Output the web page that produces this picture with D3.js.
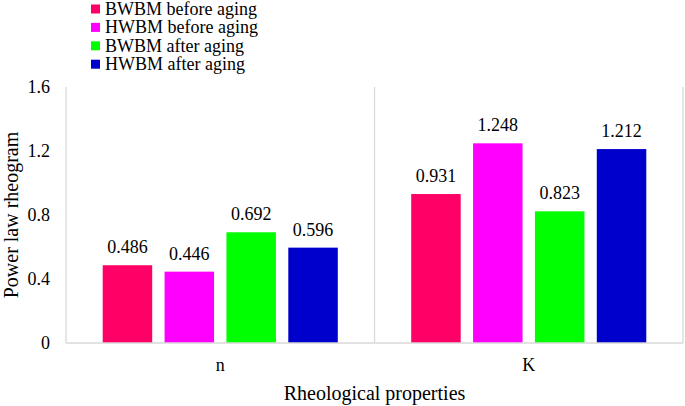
<!DOCTYPE html>
<html><head><meta charset="utf-8">
<script src="https://cdn.jsdelivr.net/npm/d3@7"></script>
<style>body{margin:0;background:#fff}svg{display:block}text{font-family:"Liberation Serif","Times New Roman",serif;fill:#000}</style>
</head><body>
<svg id="c" width="685" height="406"></svg>
<script>
const categories = ["n", "K"];
const seriesNames = ["BWBM before aging", "HWBM before aging", "BWBM after aging", "HWBM after aging"];
const seriesColors = ["#FF0066", "#FF00FF", "#00FF00", "#0000CC"];
const bwbmBefore = [0.486, 0.931];
const hwbmBefore = [0.446, 1.248];
const bwbmAfter = [0.692, 0.823];
const hwbmAfter = [0.596, 1.212];
const yTicks = [0, 0.4, 0.8, 1.2, 1.6];
const yTitle = "Power law rheogram";
const xTitle = "Rheological properties";

const seriesValues = [bwbmBefore, hwbmBefore, bwbmAfter, hwbmAfter];
const svg = d3.select("#c");
const L = 66, R = 683, T = 87, B = 343;

const x0 = d3.scaleBand().domain(categories).range([L, R]).paddingInner(0).paddingOuter(0);
const y = d3.scaleLinear().domain([0, 1.6]).range([B, T]);
const groupW = x0.bandwidth() * 0.762;
const x1 = d3.scaleBand().domain(seriesNames).range([0, groupW]).paddingInner(0.2).paddingOuter(0);

const grid = "#d9d9d9";
const bounds = [L, ...categories.slice(1).map(c => x0(c)), R];
svg.append("g").selectAll("line").data(bounds).join("line")
  .attr("x1", d => d).attr("x2", d => d).attr("y1", T).attr("y2", B)
  .attr("stroke", grid).attr("stroke-width", 1.3);

categories.forEach((cat, ci) => {
  const gx = x0(cat) + (x0.bandwidth() - groupW) / 2;
  seriesNames.forEach((s, si) => {
    const v = seriesValues[si][ci];
    svg.append("rect")
      .attr("x", gx + x1(s)).attr("y", y(v))
      .attr("width", x1.bandwidth()).attr("height", B - y(v))
      .attr("fill", seriesColors[si]);
    svg.append("text")
      .attr("x", gx + x1(s) + x1.bandwidth() / 2).attr("y", y(v) - 12)
      .attr("text-anchor", "middle").attr("font-size", 18)
      .text(v.toFixed(3));
  });
});

svg.append("line").attr("x1", L).attr("x2", R).attr("y1", B).attr("y2", B)
  .attr("stroke", grid).attr("stroke-width", 1.3);

const yAxis = d3.axisLeft(y).tickValues(yTicks).tickSize(0).tickPadding(0)
  .tickFormat(d => d === 0 ? "0" : d3.format(".1f")(d));
const ya = svg.append("g").attr("transform", `translate(${L - 16},0)`).call(yAxis);
ya.select(".domain").remove();
ya.selectAll("text").attr("font-size", 18).attr("font-family", "Liberation Serif").attr("fill", "#000").attr("dy", "0.32em");

const xAxis = d3.axisBottom(x0).tickSize(0).tickPadding(0);
const xa = svg.append("g").attr("transform", `translate(0,${B})`).call(xAxis);
xa.select(".domain").remove();
xa.selectAll("text").attr("font-size", 18).attr("font-family", "Liberation Serif").attr("fill", "#000").attr("dy", 0).attr("y", 27.5);

svg.append("text").attr("x", (L + R) / 2).attr("y", 400).attr("text-anchor", "middle")
  .attr("font-size", 20).text(xTitle);
svg.append("text").attr("transform", `translate(18,${(T + B) / 2}) rotate(-90)`)
  .attr("text-anchor", "middle").attr("font-size", 20).text(yTitle);

const lg = svg.append("g");
seriesNames.forEach((s, i) => {
  const cy = 9 + i * 18.4;
  lg.append("rect").attr("x", 91).attr("y", cy - 4.5).attr("width", 9).attr("height", 9).attr("fill", seriesColors[i]);
  lg.append("text").attr("x", 105).attr("y", cy + 6).attr("font-size", 18).text(s);
});
</script>
</body></html>
